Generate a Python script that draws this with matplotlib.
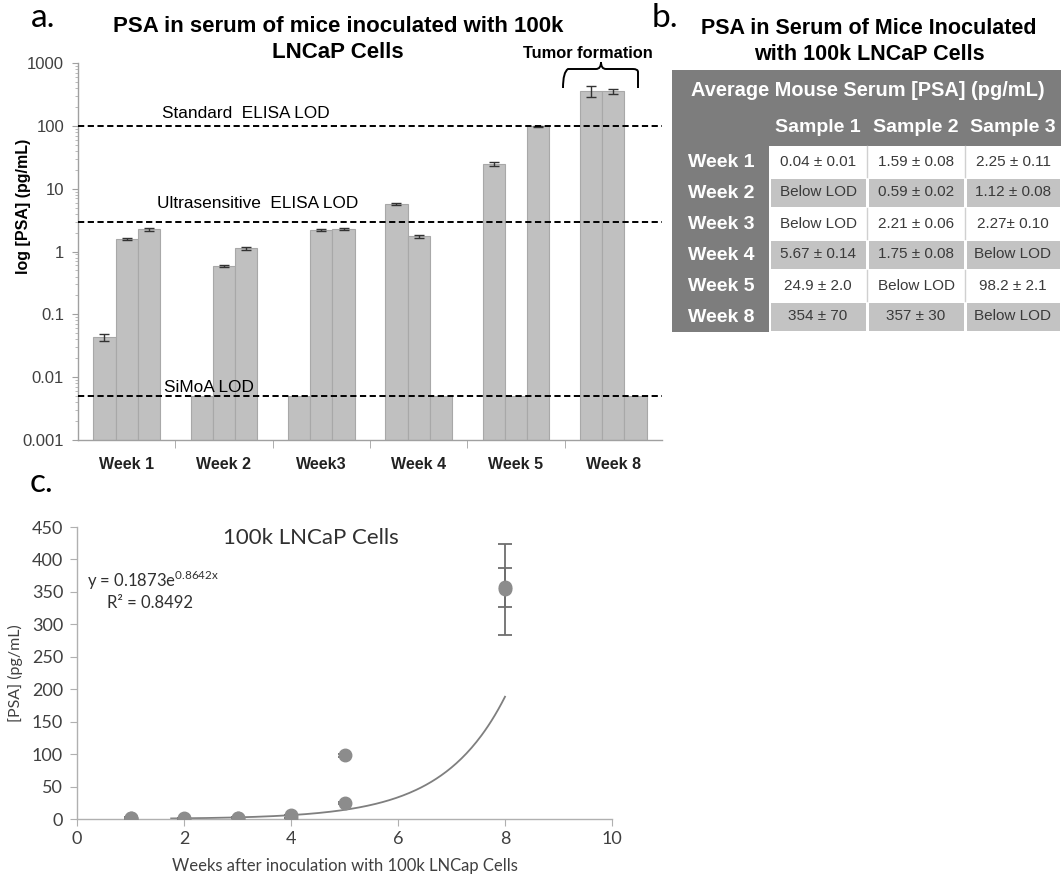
import matplotlib
matplotlib.use("Agg")
import matplotlib.pyplot as plt
import numpy as np
from matplotlib.patches import Rectangle, PathPatch
from matplotlib.path import Path
from matplotlib.ticker import FixedLocator, FixedFormatter, NullFormatter

# ---------------- data ----------------
weeks_a = ["Week 1", "Week 2", "Week3", "Week 4", "Week 5", "Week 8"]
lod_simoa = 0.005
lod_ultra = 3
lod_std = 100
# None = below LOD (bar drawn up to the SiMoA LOD)
sample1 = [0.043, None, None, 5.67, 24.9, 354]
sample1_err = [0.005, 0, 0, 0.14, 2.0, 70]
sample2 = [1.59, 0.59, 2.21, 1.75, None, 357]
sample2_err = [0.08, 0.02, 0.06, 0.08, 0, 30]
sample3 = [2.25, 1.12, 2.27, None, 98.2, None]
sample3_err = [0.11, 0.08, 0.10, 0, 2.1, 0]
ytick_vals = [0.001, 0.01, 0.1, 1, 10, 100, 1000]
ytick_labels = ["0.001", "0.01", "0.1", "1", "10", "100", "1000"]

table_header = "Average Mouse Serum [PSA] (pg/mL)"
table_cols = ["Sample 1", "Sample 2", "Sample 3"]
table_rows = ["Week 1", "Week 2", "Week 3", "Week 4", "Week 5", "Week 8"]
table_cells = [
    ["0.04 ± 0.01", "1.59 ± 0.08", "2.25 ± 0.11"],
    ["Below LOD", "0.59 ± 0.02", "1.12 ± 0.08"],
    ["Below LOD", "2.21 ± 0.06", "2.27± 0.10"],
    ["5.67 ± 0.14", "1.75 ± 0.08", "Below LOD"],
    ["24.9 ± 2.0", "Below LOD", "98.2 ± 2.1"],
    ["354 ± 70", "357 ± 30", "Below LOD"],
]

weeks_c = [1, 1, 1, 2, 2, 3, 3, 4, 4, 5, 5, 8, 8]
psa_c = [0.04, 1.59, 2.25, 0.59, 1.12, 2.21, 2.27, 5.67, 1.75, 24.9, 98.2, 354, 357]
psa_c_err = [0.01, 0.08, 0.11, 0.02, 0.08, 0.06, 0.10, 0.14, 0.08, 2.0, 2.1, 70, 30]
fit_a = 0.1873
fit_b = 0.8642
fit_r2 = 0.8492
fit_start, fit_end = 1.76, 8

# ---------------- figure ----------------
W, H = 1061, 882
fig = plt.figure(figsize=(W / 100, H / 100), dpi=100)
ARIAL = "Liberation Sans"
CAL = "Lato"

def fx(px):
    return px / W

def fy(py):
    return 1 - py / H

# ---------- panel a ----------
axa = fig.add_axes([fx(78), fy(440), fx(662) - fx(78), fy(63) - fy(440)])
axa.set_yscale("log")
axa.set_ylim(0.001, 1000)
axa.set_xlim(-0.5, 5.5)
x = np.arange(len(weeks_a))
bw = 0.228
offsets = [-bw, 0, bw]
bar_color = "#c0c0c0"
edge_color = "#a8a8a8"
for k, (vals, errs) in enumerate([(sample1, sample1_err), (sample2, sample2_err), (sample3, sample3_err)]):
    tops = np.array([lod_simoa if v is None else v for v in vals])
    axa.bar(x + offsets[k], tops - 0.001, bw, bottom=0.001, color=bar_color,
            edgecolor=edge_color, linewidth=0.8, zorder=2)
    ex = [x[i] + offsets[k] for i, v in enumerate(vals) if v is not None]
    ey = [v for v in vals if v is not None]
    ee = [errs[i] for i, v in enumerate(vals) if v is not None]
    axa.errorbar(ex, ey, yerr=ee, fmt="none", ecolor="#333333", elinewidth=1.0,
                 capsize=3.5, capthick=1.0, zorder=3)

for lvl in [lod_std, lod_ultra, lod_simoa]:
    axa.axhline(lvl, color="black", linestyle=(0, (3.2, 1.8)), linewidth=1.4, zorder=4)

for s in ["top", "right"]:
    axa.spines[s].set_visible(False)
for s in ["left", "bottom"]:
    axa.spines[s].set_color("#a0a0a0")
    axa.spines[s].set_linewidth(1.0)
axa.yaxis.set_major_locator(FixedLocator(ytick_vals))
axa.yaxis.set_major_formatter(FixedFormatter(ytick_labels))
minors = [m * 10.0 ** e for e in range(-3, 3) for m in range(2, 10)]
axa.yaxis.set_minor_locator(FixedLocator(minors))
axa.yaxis.set_minor_formatter(NullFormatter())
axa.tick_params(axis="y", which="major", direction="out", length=4, color="#a0a0a0",
                labelsize=12, labelcolor="#404040", pad=6)
axa.tick_params(axis="y", which="minor", direction="out", length=2, color="#b0b0b0")
axa.set_xticks(x)
axa.set_xticklabels(weeks_a, fontsize=11.5, fontweight="bold", family=ARIAL, color="#222222")
axa.set_xticks(np.arange(0.5, 5.0, 1.0), minor=True)
axa.tick_params(axis="x", which="major", length=0, pad=12)
axa.tick_params(axis="x", which="minor", direction="out", length=6, color="#a0a0a0")
for lab in axa.get_yticklabels():
    lab.set_family(ARIAL)
axa.set_ylabel("log [PSA] (pg/mL)", fontsize=11.5, fontweight="bold", family=ARIAL)
axa.yaxis.set_label_coords(-0.080, (440 - 206) / (440 - 63))

# ---------- panel c ----------
axc = fig.add_axes([fx(77), fy(819), fx(612) - fx(77), fy(527) - fy(819)])
axc.set_xlim(0, 10)
axc.set_ylim(0, 450)
xf = np.linspace(fit_start, fit_end, 200)
axc.plot(xf, fit_a * np.exp(fit_b * xf), color="#7f7f7f", linewidth=1.3, zorder=2)
axc.errorbar(weeks_c, psa_c, yerr=psa_c_err, fmt="o", color="#8c8c8c", ecolor="#6e6e6e",
             markersize=9, elinewidth=1.3, capsize=5, capthick=1.3, zorder=3)
for s in ["top", "right"]:
    axc.spines[s].set_visible(False)
for s in ["left", "bottom"]:
    axc.spines[s].set_color("#b0b0b0")
    axc.spines[s].set_linewidth(1.0)
axc.set_xticks(np.arange(0, 11, 2))
axc.set_yticks(np.arange(0, 451, 50))
axc.tick_params(axis="both", direction="out", length=5, color="#b0b0b0",
                labelsize=13, labelcolor="#404040")
axc.tick_params(axis="y", pad=5)
for lab in axc.get_xticklabels() + axc.get_yticklabels():
    lab.set_family(CAL)
axc.set_xlabel("Weeks after inoculation with 100k LNCap Cells", fontsize=12, family=CAL,
               color="#404040", labelpad=8)
axc.set_ylabel("[PSA] (pg/mL)", fontsize=11.5, family=CAL, color="#404040", labelpad=6)

# ---------- overlay for titles, labels, table ----------
ov = fig.add_axes([0, 0, 1, 1], zorder=10)
ov.set_xlim(0, W)
ov.set_ylim(H, 0)
ov.axis("off")

ov.text(31, 18, "a.", fontsize=24, family=CAL, va="center", ha="left")
ov.text(338, 26, "PSA in serum of mice inoculated with 100k", fontsize=16,
        fontweight="bold", family=ARIAL, ha="center", va="center")
ov.text(338, 53, "LNCaP Cells", fontsize=16, fontweight="bold", family=ARIAL,
        ha="center", va="center")
ov.text(588, 53, "Tumor formation", fontsize=11.8, fontweight="bold", family=ARIAL,
        ha="center", va="center")
brace = Path([(563, 88), (563, 72), (568, 69), (596, 69), (601, 69), (601, 62),
              (601, 62), (601, 69), (606, 69), (633, 69), (638, 69), (638, 72), (638, 88)],
             [Path.MOVETO, Path.CURVE3, Path.CURVE3, Path.LINETO, Path.CURVE3, Path.CURVE3,
              Path.MOVETO, Path.CURVE3, Path.CURVE3, Path.LINETO, Path.CURVE3, Path.CURVE3,
              Path.LINETO])
ov.add_patch(PathPatch(brace, facecolor="none", edgecolor="black", linewidth=1.4))
ov.text(162, 113, "Standard  ELISA LOD", fontsize=12.4, family=ARIAL, ha="left", va="center")
ov.text(157, 203, "Ultrasensitive  ELISA LOD", fontsize=12.4, family=ARIAL, ha="left", va="center")
ov.text(164, 387, "SiMoA LOD", fontsize=12.4, family=ARIAL, ha="left", va="center")

# panel b
ov.text(652, 18, "b.", fontsize=24, family=CAL, va="center", ha="left")
ov.text(869, 28, "PSA in Serum of Mice Inoculated", fontsize=15.5, fontweight="bold",
        family=ARIAL, ha="center", va="center")
ov.text(869, 55, "with 100k LNCaP Cells", fontsize=15.5, fontweight="bold",
        family=ARIAL, ha="center", va="center")
ov.add_patch(Rectangle((672, 70), W - 672, 332 - 70, facecolor="#7d7d7d", edgecolor="none"))
ov.text(868, 90, table_header, fontsize=14.4, fontweight="bold", family=ARIAL,
        color="white", ha="center", va="center")
col_edges = [769, 867, 965, W]
row_top = 146
row_h = 31
for j, name in enumerate(table_cols):
    ov.text((col_edges[j] + col_edges[j + 1]) / 2, 128, name, fontsize=14,
            fontweight="bold", family=ARIAL, color="white", ha="center", va="center")
for i, rname in enumerate(table_rows):
    y0 = row_top + i * row_h
    ov.text(721, y0 + row_h / 2 + 1, rname, fontsize=14, fontweight="bold", family=ARIAL,
            color="white", ha="center", va="center")
    ov.add_patch(Rectangle((col_edges[0], y0), W - col_edges[0], row_h,
                           facecolor="white", edgecolor="none"))
    for j in range(3):
        x0, x1 = col_edges[j], col_edges[j + 1]
        if i % 2 == 1:
            ov.add_patch(Rectangle((x0 + 1.5, y0 + 1.5), x1 - x0 - 3, row_h - 3,
                                   facecolor="#c3c3c3", edgecolor="none"))
        elif j > 0:
            ov.plot([x0, x0], [y0, y0 + row_h], color="#d0d0d0", linewidth=1)
        ov.text((x0 + x1) / 2, y0 + row_h / 2, table_cells[i][j], fontsize=11,
                family=ARIAL, color="#3a3a3a", ha="center", va="center")

# panel c labels
ov.text(30, 483, "c.", fontsize=24, family=CAL, va="center", ha="left")
ov.text(311, 538, "100k LNCaP Cells", fontsize=16, family=CAL, color="#303030",
        ha="center", va="center")
ov.text(87, 580, r"y = 0.1873e$^{\mathregular{0.8642x}}$", fontsize=12, family=CAL,
        color="#303030", ha="left", va="center")
ov.text(150, 603, "R² = 0.8492", fontsize=12, family=CAL, color="#303030",
        ha="center", va="center")

fig.savefig("out.png", dpi=100)
